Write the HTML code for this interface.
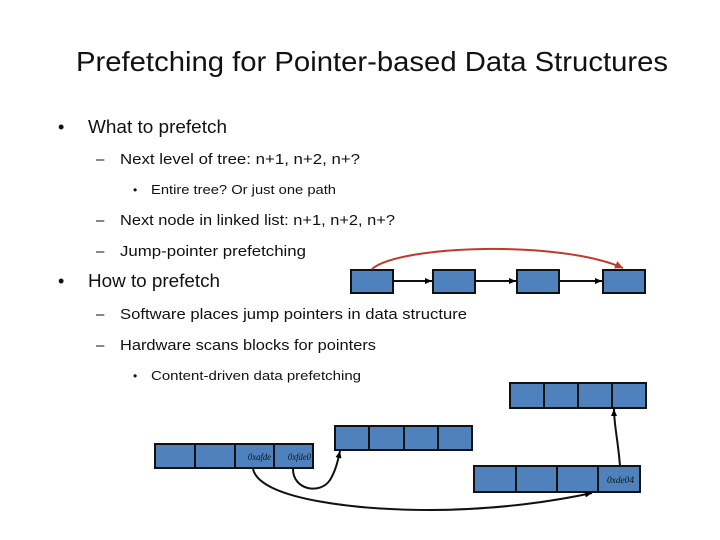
<!DOCTYPE html>
<html><head><meta charset="utf-8"><style>
html,body{margin:0;padding:0;background:#fff;}
svg{display:block;font-family:"Liberation Sans",sans-serif;}
</style></head><body>
<svg width="720" height="540" viewBox="0 0 720 540" xmlns="http://www.w3.org/2000/svg">
<defs>
<marker id="ab" markerWidth="8" markerHeight="8" refX="7" refY="4" orient="auto" markerUnits="userSpaceOnUse"><path d="M0,1 L7,4 L0,7 z" fill="#000"/></marker>
<marker id="ar" markerWidth="10" markerHeight="10" refX="8" refY="5" orient="auto" markerUnits="userSpaceOnUse"><path d="M0,1 L8,5 L0,9 z" fill="#c0392b"/></marker>
</defs>
<text x="76" y="71" font-size="28" fill="#111" textLength="592" lengthAdjust="spacingAndGlyphs">Prefetching for Pointer-based Data Structures</text>

<g fill="#111">
<text x="58" y="133" font-size="18">•</text>
<text x="88" y="133" font-size="18" textLength="139" lengthAdjust="spacingAndGlyphs">What to prefetch</text>
<text x="96" y="164" font-size="15">–</text>
<text x="120" y="164" font-size="15" textLength="240" lengthAdjust="spacingAndGlyphs">Next level of tree: n+1, n+2, n+?</text>
<text x="133" y="194" font-size="12">•</text>
<text x="151" y="194" font-size="13" textLength="185" lengthAdjust="spacingAndGlyphs">Entire tree? Or just one path</text>
<text x="96" y="225" font-size="15">–</text>
<text x="120" y="225" font-size="15" textLength="275" lengthAdjust="spacingAndGlyphs">Next node in linked list: n+1, n+2, n+?</text>
<text x="96" y="256" font-size="15">–</text>
<text x="120" y="256" font-size="15" textLength="186" lengthAdjust="spacingAndGlyphs">Jump-pointer prefetching</text>
<text x="58" y="287" font-size="18">•</text>
<text x="88" y="287" font-size="18" textLength="132" lengthAdjust="spacingAndGlyphs">How to prefetch</text>
<text x="96" y="319" font-size="15">–</text>
<text x="120" y="319" font-size="15" textLength="347" lengthAdjust="spacingAndGlyphs">Software places jump pointers in data structure</text>
<text x="96" y="350" font-size="15">–</text>
<text x="120" y="350" font-size="15" textLength="256" lengthAdjust="spacingAndGlyphs">Hardware scans blocks for pointers</text>
<text x="133" y="380" font-size="12">•</text>
<text x="151" y="380" font-size="13" textLength="210" lengthAdjust="spacingAndGlyphs">Content-driven data prefetching</text>
</g>

<g fill="#4f81bd" stroke="#111" stroke-width="2">
<rect x="351" y="270" width="42" height="23"/>
<rect x="433" y="270" width="42" height="23"/>
<rect x="517" y="270" width="42" height="23"/>
<rect x="603" y="270" width="42" height="23"/>
</g>
<g stroke="#111" stroke-width="2" fill="none">
<line x1="393" y1="281" x2="432" y2="281" marker-end="url(#ab)"/>
<line x1="475" y1="281" x2="516" y2="281" marker-end="url(#ab)"/>
<line x1="559" y1="281" x2="602" y2="281" marker-end="url(#ab)"/>
</g>
<path d="M372,269 C400,245 560,240 623,268" stroke="#c0392b" stroke-width="2" fill="none" marker-end="url(#ar)"/>

<g fill="#4f81bd" stroke="#111" stroke-width="2">
<rect x="155" y="444" width="158" height="24"/>
<rect x="335" y="426" width="137" height="24"/>
<rect x="510" y="383" width="136" height="25"/>
<rect x="474" y="466" width="166" height="26"/>
</g>
<g stroke="#111" stroke-width="2">
<line x1="195" y1="444" x2="195" y2="468"/><line x1="235" y1="444" x2="235" y2="468"/><line x1="274" y1="444" x2="274" y2="468"/>
<line x1="369" y1="426" x2="369" y2="450"/><line x1="404" y1="426" x2="404" y2="450"/><line x1="438" y1="426" x2="438" y2="450"/>
<line x1="544" y1="383" x2="544" y2="408"/><line x1="578" y1="383" x2="578" y2="408"/><line x1="612" y1="383" x2="612" y2="408"/>
<line x1="516" y1="466" x2="516" y2="492"/><line x1="557" y1="466" x2="557" y2="492"/><line x1="598" y1="466" x2="598" y2="492"/>
</g>
<g font-size="9" font-style="italic" fill="#111" font-family="Liberation Serif,serif">
<text x="248" y="460" textLength="23" lengthAdjust="spacingAndGlyphs">0xafde</text>
<text x="288" y="460" textLength="23" lengthAdjust="spacingAndGlyphs">0xfde0</text>
<text x="607" y="483" textLength="27" lengthAdjust="spacingAndGlyphs">0xde04</text>
</g>
<g stroke="#111" stroke-width="2" fill="none">
<path d="M293,469 C293,490 320,495 330,480 C336,470 338,460 340,451" marker-end="url(#ab)"/>
<path d="M253,469 C260,500 360,510 430,510 C500,510 560,500 592,493" marker-end="url(#ab)"/>
<path d="M620,466 C618,440 614,425 614,409" marker-end="url(#ab)"/>
</g>
</svg>
</body></html>
